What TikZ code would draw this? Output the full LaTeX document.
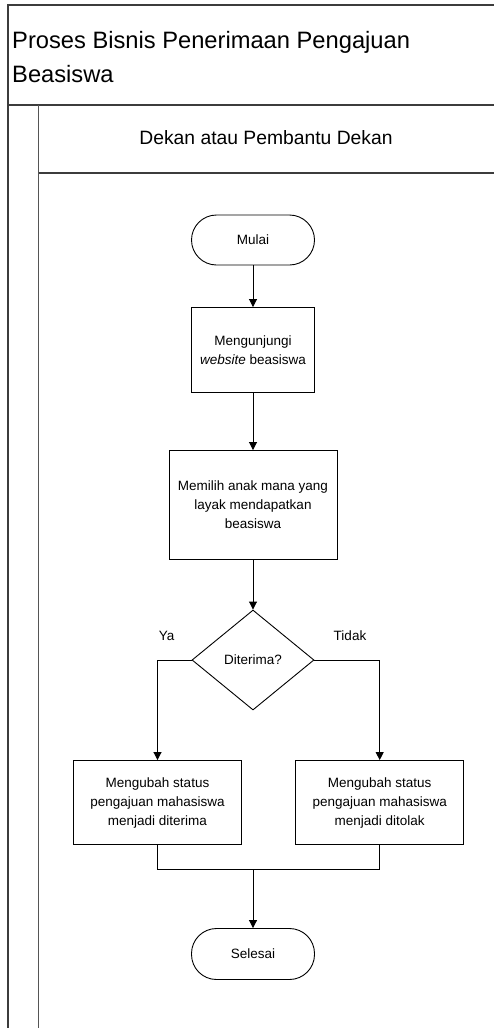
\documentclass[tikz,border=0pt]{standalone}
\usepackage{fontspec}
\setmainfont{Liberation Sans}
\usetikzlibrary{
    shapes.geometric,
    arrows.meta,
    positioning
}
\definecolor{framegray}{RGB}{60,60,60}
\definecolor{lanegray}{RGB}{85,85,85}
\tikzset{
    % Swimlane frame
    poolline/.style={
        draw=framegray,
        line width=1.3pt
    },
    laneline/.style={
        draw=lanegray,
        line width=1.8pt
    },
    pooltitle/.style={
        align=left,
        inner sep=0pt,
        font=\fontsize{23.7}{33.2}\selectfont
    },
    lanetitle/.style={
        inner sep=0pt,
        font=\fontsize{19.3}{27}\selectfont
    },
    % Flowchart shapes
    terminal/.style={
        rectangle,
        draw=black,
        line width=0.9pt,
        rounded corners=25pt,
        minimum width=123pt,
        minimum height=50pt,
        align=center,
        font=\fontsize{13.5}{19}\selectfont
    },
    process/.style={
        rectangle,
        draw=black,
        line width=0.9pt,
        minimum width=123pt,
        minimum height=85pt,
        align=center,
        font=\fontsize{13.5}{19}\selectfont
    },
    decision/.style={
        diamond,
        draw=black,
        line width=0.9pt,
        aspect=1.22,
        inner sep=0pt,
        minimum width=122pt,
        minimum height=100pt,
        align=center,
        font=\fontsize{13.5}{19}\selectfont
    },
    % Arrows
    arrow/.style={
        -{Triangle[length=8pt,width=8pt]},
        line width=0.9pt,
        draw=black
    },
    line/.style={
        line width=0.9pt,
        draw=black
    },
    % Labels
    branchlabel/.style={
        inner sep=0pt,
        font=\fontsize{13.5}{19}\selectfont
    }
}

\begin{document}
\begin{tikzpicture}[x=1pt, y=-1pt]

    \useasboundingbox (0,0) rectangle (494,1028);

    % Pool and lane
    \draw[poolline] (494,5) -- (8,5) -- (8,1028);
    \draw[poolline] (8,105) -- (494,105);
    \draw[laneline] (38.5,105) -- (38.5,1028);
    \draw[poolline] (38.5,173) -- (494,173);

    \node[pooltitle, anchor=west] (pool) at (12,57) {Proses Bisnis Penerimaan Pengajuan\\Beasiswa};
    \node[lanetitle] (lane) at (266,138) {Dekan atau Pembantu Dekan};

    % Start
    \node[terminal] (mulai) at (253,240) {Mulai};

    % Visit website
    \node[process] (kunjungi) at (253,350) {Mengunjungi\\\textit{website} beasiswa};

    % Select students
    \node[process, minimum width=168pt, minimum height=109pt] (pilih) at (253,505) {Memilih anak mana yang\\layak mendapatkan\\beasiswa};

    % Decision
    \node[decision] (diterima) at (253,660) {Diterima?};
    \node[branchlabel] (ya) at (166.7,636) {Ya};
    \node[branchlabel] (tidak) at (350,636) {Tidak};

    % Accepted / rejected
    \node[process, minimum width=168pt, minimum height=84pt] (terima) at (157.5,802.5) {Mengubah status\\pengajuan mahasiswa\\menjadi diterima};
    \node[process, minimum width=168pt, minimum height=84pt] (tolak) at (379.7,802.5) {Mengubah status\\pengajuan mahasiswa\\menjadi ditolak};

    % End
    \coordinate (gabung) at (253,869.3);
    \node[terminal, minimum height=51pt] (selesai) at (253,954) {Selesai};

    % Arrows - main flow
    \draw[arrow] (mulai) -- (kunjungi);
    \draw[arrow] (kunjungi) -- (pilih);
    \draw[arrow] (pilih) -- (diterima);
    \draw[arrow] (diterima.west) -| (terima.north);
    \draw[arrow] (diterima.east) -| (tolak.north);

    % Merge
    \draw[line] (terima.south) |- (gabung) -| (tolak.south);
    \draw[arrow] (gabung) -- (selesai);

\end{tikzpicture}
\end{document}
